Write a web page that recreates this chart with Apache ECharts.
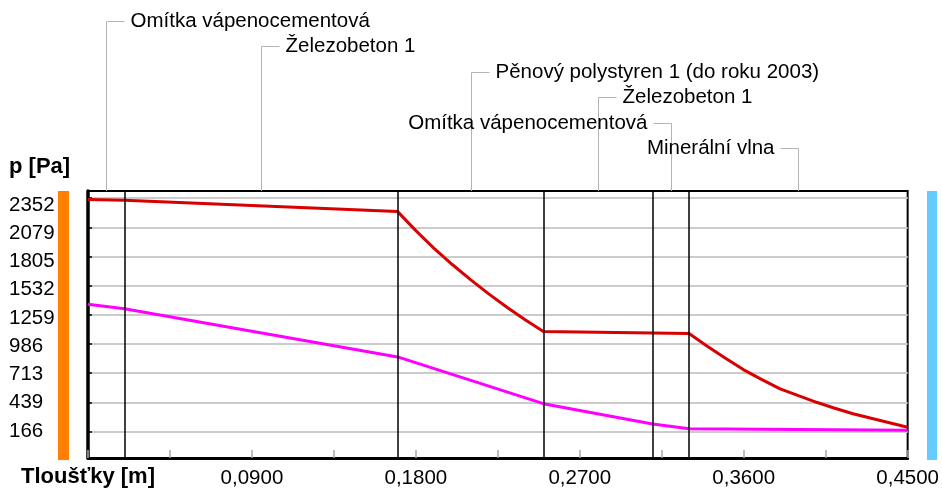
<!DOCTYPE html>
<html><head><meta charset="utf-8">
<script src="https://cdn.jsdelivr.net/npm/echarts@6/dist/echarts.min.js"></script>
<style>html,body{margin:0;padding:0;background:#fff}#c{width:942px;height:491px}</style>
</head><body><div id="c"></div>
<script>
// ---- data ----
const layerNames = ['Omítka vápenocementová', 'Železobeton 1', 'Pěnový polystyren 1 (do roku 2003)', 'Železobeton 1', 'Omítka vápenocementová', 'Minerální vlna'];
const layerBounds = [0, 0.02, 0.17, 0.25, 0.31, 0.33, 0.45];

const redX = [0, 0.02, 0.17, 0.18, 0.19, 0.20, 0.21, 0.22, 0.23, 0.24, 0.25, 0.31, 0.33, 0.34, 0.35, 0.36, 0.37, 0.38, 0.39, 0.40, 0.41, 0.42, 0.43, 0.44, 0.45];
const redP = [2339, 2333, 2226, 2048, 1882, 1730, 1588, 1455, 1330, 1212, 1102, 1088, 1084, 965, 851, 743, 651, 565, 501, 439, 383, 332, 289, 247, 205];

const pinkX = [0, 0.02, 0.17, 0.25, 0.31, 0.33, 0.45];
const pinkP = [1358, 1316, 864, 426, 235, 191, 176];

const yTicks = [166, 439, 713, 986, 1259, 1532, 1805, 2079, 2352];
const xTicks = [0.09, 0.18, 0.27, 0.36, 0.45];

// ---- chart ----
const FONT = '"Liberation Sans", Arial, sans-serif';
const chart = echarts.init(document.getElementById('c'), null, {renderer: 'canvas'});
const gridTop = 191, gridBottom = 33, gridLeft = 88, gridRight = 34;

chart.setOption({
  animation: false,
  backgroundColor: '#fff',
  grid: {left: gridLeft, right: gridRight, top: gridTop, bottom: gridBottom, show: true, borderColor: '#000', borderWidth: 2, containLabel: false},
  xAxis: {
    type: 'value', min: 0, max: 0.45, interval: 0.045,
    axisLine: {show: true, onZero: false, lineStyle: {color: '#000', width: 3}},
    axisTick: {show: true, inside: true, length: 8, lineStyle: {color: '#a8a8a8', width: 1.5}},
    splitLine: {show: false},
    axisLabel: {
      customValues: xTicks, margin: 8, lineHeight: 24,
      fontFamily: FONT, fontSize: 20.5, color: '#000',
      formatter: v => v.toFixed(4).replace('.', ',')
    }
  },
  yAxis: [{
    type: 'value', min: -83, max: 2419,
    axisLine: {show: true, onZero: false, lineStyle: {color: '#000', width: 3.5}},
    axisTick: {show: true, inside: true, length: 4, customValues: yTicks, lineStyle: {color: '#000', width: 1.5}},
    splitLine: {show: true, lineStyle: {color: '#cccccc', width: 2}},
    axisLabel: {show: false}
  }, {
    type: 'value', position: 'left', min: -95, max: 2487,
    axisLine: {show: false}, axisTick: {show: false}, splitLine: {show: false},
    axisLabel: {
      customValues: yTicks, align: 'left', margin: 79,
      fontFamily: FONT, fontSize: 20.5, color: '#000',
      formatter: v => String(Math.round(v))
    }
  }],
  series: [{
    type: 'custom', clip: false, silent: true, z: 1,
    data: layerNames.map((n, i) => [(layerBounds[i] + layerBounds[i + 1]) / 2, i]),
    renderItem: function (params, api) {
      const i = api.value(1);
      const x = Math.round(api.coord([api.value(0), 0])[0]) + 0.5;
      const top = params.coordSys.y;
      const rowY = Math.round(20.5 + i * 25.5) + 0.5;
      const dir = i < 4 ? 1 : -1;
      return {
        type: 'group', children: [
          {type: 'polyline', shape: {points: [[x, top], [x, rowY], [x + dir * 18, rowY]]}, style: {stroke: '#b4b4b4', lineWidth: 1, fill: null}},
          {type: 'text', style: {text: layerNames[i], x: x + dir * 24, y: rowY, align: dir > 0 ? 'left' : 'right', verticalAlign: 'middle', font: '20.5px ' + FONT, fill: '#000'}}
        ]
      };
    }
  }, {
    type: 'line', name: 'psat', z: 3,
    data: redX.map((x, i) => [x, redP[i]]),
    showSymbol: false, symbol: 'none',
    lineStyle: {color: '#d80000', width: 3},
    markLine: {
      silent: true, symbol: ['none', 'none'], label: {show: false},
      lineStyle: {color: '#000', width: 1.5, type: 'solid'},
      data: layerBounds.slice(1, -1).map(b => ({xAxis: b}))
    }
  }, {
    type: 'line', name: 'p', z: 3,
    data: pinkX.map((x, i) => [x, pinkP[i]]),
    showSymbol: false, symbol: 'none',
    lineStyle: {color: '#ff00ff', width: 3}
  }],
  graphic: [
    {type: 'rect', left: 58, top: 191, shape: {width: 11, height: 269}, style: {fill: '#ff8000'}},
    {type: 'rect', left: 927, top: 191, shape: {width: 10, height: 269}, style: {fill: '#66ccff'}},
    {type: 'text', left: 9, top: 156, style: {text: 'p [Pa]', font: 'bold 22px ' + FONT, fill: '#000'}},
    {type: 'text', left: 21, top: 466, style: {text: 'Tloušťky [m]', font: 'bold 22px ' + FONT, fill: '#000'}}
  ]
});
</script>
</body></html>
